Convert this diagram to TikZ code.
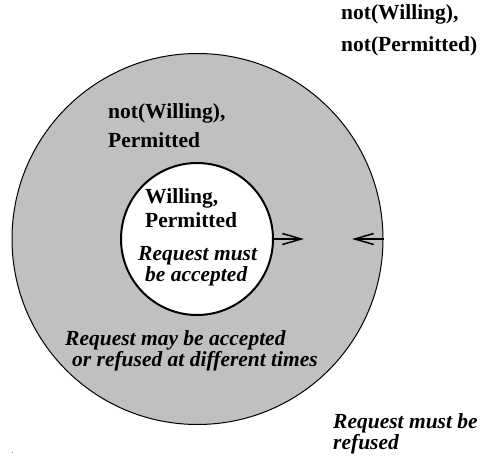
\documentclass[tikz,border=0pt]{standalone}
\usepackage{fontspec}
\setmainfont{Liberation Serif}
\usetikzlibrary{arrows.meta}
\definecolor{ringgray}{RGB}{192,192,192}
\tikzset{
  px/.style={x=1pt,y=-1pt},
  lbl/.style={anchor=base west,inner sep=0pt,font=\fontsize{21.5}{21.5}\selectfont\bfseries},
  ilbl/.style={anchor=base west,inner sep=0pt,align=left,font=\fontsize{21.5}{18}\selectfont\bfseries\itshape},
  barb/.style={-{Straight Barb[length=19pt,width=11pt,line width=1.5pt]},line width=1.5pt}
}
\begin{document}
\begin{tikzpicture}[px]
\useasboundingbox (0,0) rectangle (480,460);
\node[circle,draw,fill=ringgray,line width=1pt,minimum size=371pt,inner sep=0pt] (outer) at (197.5,239) {};
\node[circle,draw,fill=white,line width=2pt,minimum size=152pt,inner sep=0pt] (inner) at (197,239) {};
\coordinate (a1) at (304,239);
\coordinate (a2) at (352,239);
\draw[barb] (inner.east) -- (a1);
\draw[barb] (outer.east) -- (a2);
\node[lbl] (t1) at (341,20) {not(Willing),};
\node[lbl] (t2) at (341,52) {not(Permitted)};
\node[lbl] (t3) at (108,118) {not(Willing),};
\node[lbl] (t4) at (108,148) {Permitted};
\node[lbl] (t5) at (145,203) {Willing,};
\node[lbl] (t6) at (145,227) {Permitted};
\node[ilbl] (t7) at (138,281) {Request must\\\hspace*{7pt}be accepted};
\node[ilbl] (t9) at (65,366) {Request may be accepted\\\hspace*{7pt}or refused at different times};
\node[ilbl] (t11) at (333,449) {Request must be\\refused};
\fill[gray] (11.5,451.5) rectangle (13,453);
\end{tikzpicture}
\end{document}
